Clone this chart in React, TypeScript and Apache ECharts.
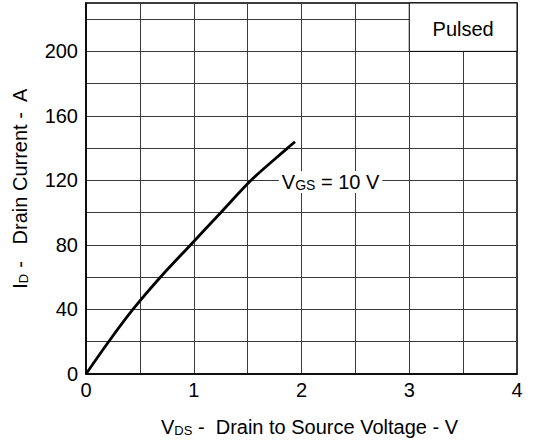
import React, { useEffect, useRef } from "react";
import * as echarts from "echarts";

const vds = [0, 0.21, 0.435, 0.69, 0.97, 1.25, 1.53, 1.87, 1.94];
const idCurrent = [0, 20, 40, 60, 80, 100, 120, 140, 144];
const yTickLabels = [0, 40, 80, 120, 160, 200];
const xTickLabels = [0, 1, 2, 3, 4];
const curveLabel = "VGS = 10 V";
const boxLabel = "Pulsed";

const FONT = "Liberation Sans, Arial, Helvetica, sans-serif";

export default function App() {
  const ref = useRef<HTMLDivElement>(null);
  useEffect(() => {
    if (!ref.current) return;
    const chart = echarts.init(ref.current, null, { renderer: "svg" });
    const data = vds.map((v, i) => [v, idCurrent[i]]);
    chart.setOption({
      animation: false,
      textStyle: { fontFamily: FONT },
      grid: {
        left: 86,
        right: 18,
        top: 3,
        bottom: 71,
        show: true,
        borderColor: "#000",
        borderWidth: 1.5,
        backgroundColor: "#fff",
      },
      xAxis: {
        type: "value",
        min: 0,
        max: 4,
        interval: 0.5,
        axisLine: { show: true, lineStyle: { color: "#000", width: 1.5 } },
        axisTick: { show: false },
        splitLine: { show: true, lineStyle: { color: "#3a3a3a", width: 1 } },
        axisLabel: {
          color: "#000",
          fontSize: 20,
          fontFamily: FONT,
          margin: 6,
          formatter: (v: number) => (xTickLabels.includes(v) ? String(v) : ""),
        },
        name: "{a|V}{s|DS}{a| -  Drain to Source Voltage - V}",
        nameLocation: "middle",
        nameGap: 43,
        nameTextStyle: {
          padding: [0, 0, 0, 16],
          rich: {
            a: { fontSize: 20, fontFamily: FONT, color: "#000" },
            s: { fontSize: 13, fontFamily: FONT, color: "#000", verticalAlign: "bottom", padding: [5, 0, 0, 0] },
          },
        },
      },
      yAxis: {
        type: "value",
        min: 0,
        max: 230,
        interval: 20,
        axisLine: { show: true, lineStyle: { color: "#000", width: 1.5 } },
        axisTick: { show: false },
        splitLine: { show: true, lineStyle: { color: "#3a3a3a", width: 1 } },
        axisLabel: {
          color: "#000",
          fontSize: 20,
          fontFamily: FONT,
          margin: 8,
          formatter: (v: number) => (yTickLabels.includes(v) ? String(v) : ""),
        },
        name: "{a|I}{s|D}{a| -   Drain Current -  A}",
        nameLocation: "middle",
        nameGap: 56,
        nameTextStyle: {
          rich: {
            a: { fontSize: 20, fontFamily: FONT, color: "#000" },
            s: { fontSize: 13, fontFamily: FONT, color: "#000", verticalAlign: "bottom", padding: [5, 0, 0, 0] },
          },
        },
      },
      series: [
        {
          type: "line",
          data,
          smooth: 0.3,
          showSymbol: false,
          lineStyle: { color: "#000", width: 2.8 },
          markArea: {
            silent: true,
            itemStyle: { color: "#fff", borderColor: "#000", borderWidth: 1 },
            label: {
              show: true,
              position: "inside",
              color: "#000",
              fontSize: 20,
              fontFamily: FONT,
              offset: [0, 2],
            },
            data: [[{ name: boxLabel, coord: [3, 200] }, { coord: [4, 230] }]],
          },
          markPoint: {
            silent: true,
            symbol: "rect",
            symbolSize: 1,
            itemStyle: { color: "rgba(0,0,0,0)" },
            label: {
              show: true,
              position: "inside",
              backgroundColor: "#fff",
              padding: [1, 3],
              formatter: () => "{a|V}{s|GS}{a| = 10 V}",
              rich: {
                a: { fontSize: 20, fontFamily: FONT, color: "#000" },
                s: { fontSize: 14, fontFamily: FONT, color: "#000", verticalAlign: "bottom", padding: [4, 0, 0, 0] },
              },
            },
            data: [{ name: curveLabel, coord: [2.27, 119] }],
          },
        },
      ],
    });
    return () => chart.dispose();
  }, []);
  return (
    <div
      ref={ref}
      style={{ position: "fixed", left: 0, top: 0, width: 535, height: 445, background: "#fff" }}
    />
  );
}
